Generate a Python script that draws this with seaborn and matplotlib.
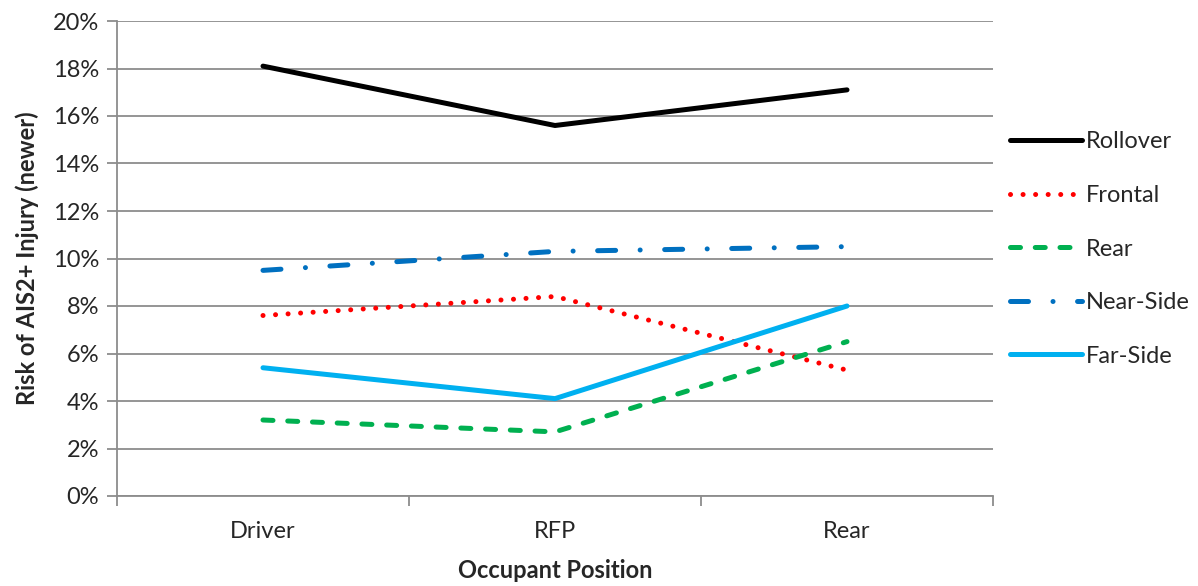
import numpy as np
import pandas as pd
import matplotlib
matplotlib.use("Agg")
import matplotlib.pyplot as plt
import seaborn as sns

# occupant positions on the x axis
positions = ["Driver", "RFP", "Rear"]

# risk of AIS2+ injury (%) per crash type
rollover = [18.1, 15.6, 17.1]
frontal = [7.6, 8.4, 5.3]
rear = [3.2, 2.7, 6.5]
near_side = [9.5, 10.3, 10.5]
far_side = [5.4, 4.1, 8.0]

series = ["Rollover", "Frontal", "Rear", "Near-Side", "Far-Side"]
values = [rollover, frontal, rear, near_side, far_side]

df = pd.DataFrame({
    "position": positions * len(series),
    "risk": np.concatenate(values) / 100.0,
    "type": np.repeat(series, len(positions)),
})

colors = {"Rollover": "#000000", "Frontal": "#FF0000", "Rear": "#00B050",
          "Near-Side": "#0070C0", "Far-Side": "#00B0F0"}
dashes = {"Rollover": "", "Frontal": (0.01, 2.5), "Rear": (2.0, 2.95),
          "Near-Side": (3.6, 4.9, 0.01, 4.9), "Far-Side": ""}

sns.set_style("white")
plt.rcParams["font.family"] = ["Lato", "DejaVu Sans"]

fig = plt.figure(figsize=(11.98, 5.86), dpi=100)
ax = fig.add_axes([117 / 1198, 90 / 586, 876 / 1198, 475 / 586])

sns.lineplot(data=df, x="position", y="risk", hue="type", style="type",
             palette=colors, dashes=dashes, sort=False, linewidth=3.6,
             legend=False, ax=ax)

for ln in ax.lines:
    ln.set_dash_capstyle("round")
    ln.set_solid_capstyle("round")

ax.set_xlim(-0.5, 2.5)
ax.set_ylim(0, 0.2)
ax.set_yticks(np.arange(0, 0.201, 0.02))
ax.set_yticklabels([f"{int(round(v * 100))}%" for v in np.arange(0, 0.201, 0.02)])
ax.set_xticks(range(len(positions)))
ax.set_xticklabels(positions)
ax.set_xticks([-0.5, 0.5, 1.5, 2.5], minor=True)

ax.yaxis.grid(True, color="#8C8C8C", linewidth=1.3)
ax.set_axisbelow(True)
for s in ["top", "right"]:
    ax.spines[s].set_visible(False)
for s in ["left", "bottom"]:
    ax.spines[s].set_color("#8C8C8C")
    ax.spines[s].set_linewidth(1.3)

ax.tick_params(axis="y", which="major", direction="out", length=7, width=1.3,
               color="#8C8C8C", labelsize=17, pad=6, left=True)
ax.tick_params(axis="x", which="major", length=0, labelsize=17, pad=18)
ax.tick_params(axis="x", which="minor", direction="out", length=7, width=1.3,
               color="#8C8C8C", bottom=True)

ax.set_xlabel("Occupant Position", fontsize=17, fontweight="bold", labelpad=12)
ax.set_ylabel("Risk of AIS2+ Injury (newer)", fontsize=17, fontweight="bold", labelpad=10)

ax.legend(ax.lines, series, loc="center left", bbox_to_anchor=(1.0, 0.52),
          frameon=False, fontsize=17, handlelength=3.05, handletextpad=0.2,
          labelspacing=1.38, borderaxespad=0.3)

fig.savefig("out.png", dpi=100)
